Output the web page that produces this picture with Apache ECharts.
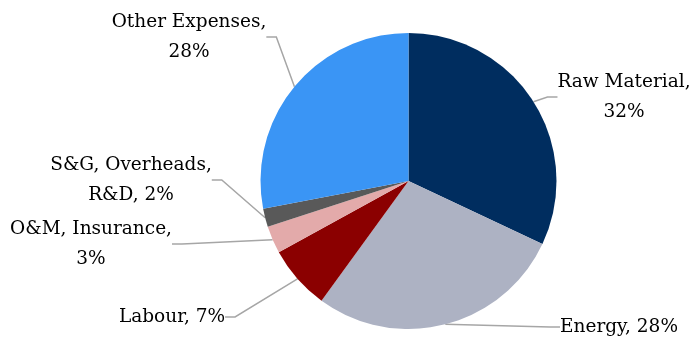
<!DOCTYPE html>
<html>
<head>
<meta charset="utf-8">
<script src="https://cdn.jsdelivr.net/npm/echarts@6/dist/echarts.min.js"></script>
<style>
  html, body { margin: 0; padding: 0; background: #fff; }
  #chart { width: 692px; height: 340px; }
</style>
</head>
<body>
<div id="chart"></div>
<script>
// Cost breakdown, clockwise from 12 o'clock
const categories = ['Raw Material', 'Energy', 'Labour', 'O&M, Insurance', 'S&G, Overheads,\nR&D', 'Other Expenses'];
const shares = [32, 28, 7, 3, 2, 28];
const valueOnNewLine = [true, false, false, true, false, true];
const colors = ['#002D5F', '#ADB2C3', '#8B0000', '#E3AAAA', '#595959', '#3A95F5'];

// Label anchor points (text block centres)
const labelSpots = [
  [624, 97], [619, 327], [172, 317], [91, 244], [131, 180], [189, 37]
];

const chart = echarts.init(document.getElementById('chart'), null, { renderer: 'canvas' });

chart.setOption({
  animation: false,
  series: [{
    type: 'pie',
    center: [408.5, 181],
    radius: [0, 148],
    startAngle: 90,
    clockwise: true,
    data: categories.map((name, i) => ({
      name: name,
      value: shares[i],
      itemStyle: { color: colors[i] }
    })),
    itemStyle: { borderWidth: 0 },
    label: {
      show: true,
      fontFamily: '"DejaVu Serif", serif',
      fontSize: 18.5,
      lineHeight: 30,
      color: '#000',
      align: 'center',
      overflow: 'none',
      formatter: p => p.name + (valueOnNewLine[p.dataIndex] ? ',\n' : ', ') + p.value + '%'
    },
    labelLine: {
      show: true,
      length2: 10,
      lineStyle: { color: '#A6A6A6', width: 1.5 }
    },
    labelLayout: params => {
      const s = labelSpots[params.dataIndex];
      return { x: s[0], y: s[1], align: 'center', verticalAlign: 'middle' };
    }
  }]
});
</script>
</body>
</html>
